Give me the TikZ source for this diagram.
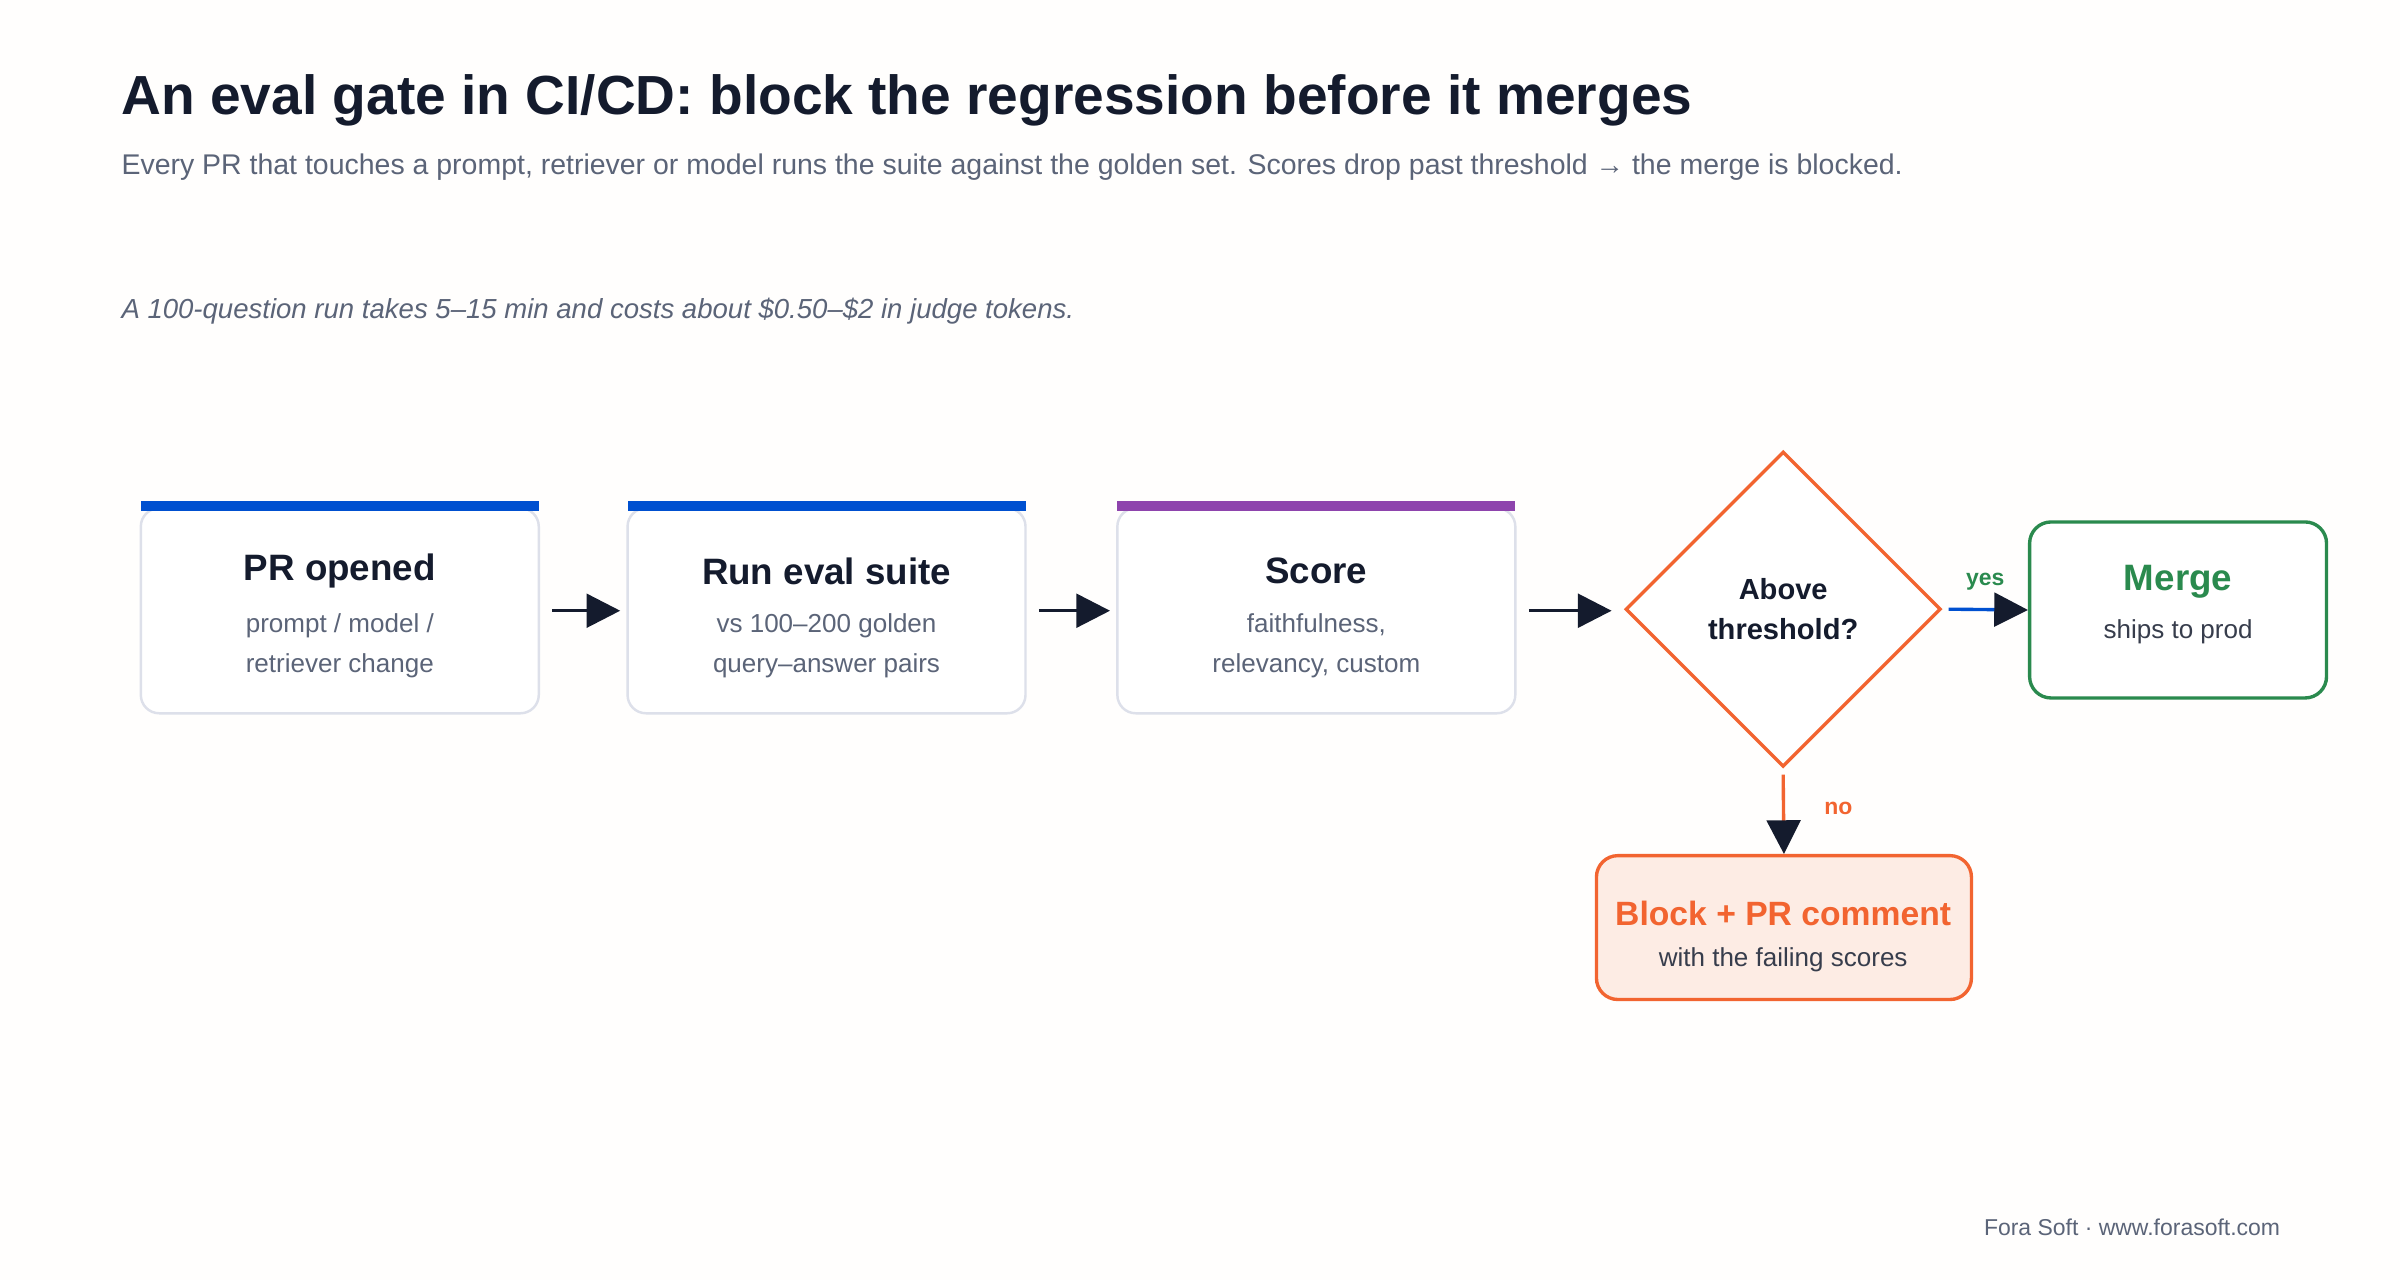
\documentclass[tikz,border=0pt]{standalone}
\usepackage{fontspec}
\setmainfont{Liberation Sans}
\usetikzlibrary{arrows.meta,shapes.geometric}
\definecolor{ink}{HTML}{141B2D}
\definecolor{sub}{HTML}{5B6478}
\definecolor{bord}{HTML}{DDE0EA}
\definecolor{blu}{HTML}{0050D0}
\definecolor{pur}{HTML}{8E44AD}
\definecolor{org}{HTML}{F26430}
\definecolor{grn}{HTML}{2A8A4E}
\definecolor{pale}{HTML}{FDECE4}
\begin{document}
\begin{tikzpicture}[x=0.5pt,y=-0.5pt,
  stepbox/.style={draw=bord,line width=0.8pt,rounded corners=6pt,fill=white,minimum width=130pt,minimum height=67pt},
  ttl/.style={font=\bfseries\fontsize{12}{14}\selectfont,text=ink},
  sm/.style={font=\fontsize{8.5}{13}\selectfont,text=sub,align=center},
  arr/.style={draw=ink,line width=1.1pt,-{Triangle[length=11pt,width=11pt,color=ink]}}]
\fill[white!98!orange!40] (0,0) rectangle (1568,836);
\useasboundingbox (0,0) rectangle (1568,836);
\node[anchor=base west,inner sep=0pt,font=\bfseries\fontsize{18}{22}\selectfont,text=ink] (t) at (79,75) {An eval gate in CI/CD: block the regression before it merges};
\node[anchor=base west,inner sep=0pt,font=\fontsize{9.3}{11}\selectfont,text=sub] (s) at (79,114) {Every PR that touches a prompt, retriever or model runs the suite against the golden set. Scores drop past threshold → the merge is blocked.};
\node[anchor=base west,inner sep=0pt,font=\itshape\fontsize{9}{11}\selectfont,text=sub] (n) at (79,208) {A 100-question run takes 5–15 min and costs about \$0.50–\$2 in judge tokens.};
% boxes
\node[stepbox] (b1) at (222,399) {};
\fill[blu] (92,327) rectangle (352,334);
\node[ttl] (b1t) at (222,373) {PR opened};
\node[sm] (b1s) at (222,422) {prompt / model /\\retriever change};
\node[stepbox] (b2) at (540,399) {};
\fill[blu] (410,327) rectangle (670,334);
\node[ttl] (b2t) at (540,373) {Run eval suite};
\node[sm] (b2s) at (540,422) {vs 100–200 golden\\query–answer pairs};
\node[stepbox] (b3) at (860,399) {};
\fill[pur] (730,327) rectangle (990,334);
\node[ttl] (b3t) at (860,373) {Score};
\node[sm] (b3s) at (860,422) {faithfulness,\\relevancy, custom};
\node[draw=org,line width=1.1pt,diamond,minimum width=103pt,minimum height=103pt,inner sep=0pt,fill=white,align=center,font=\bfseries\fontsize{9.5}{13}\selectfont,text=ink] (d) at (1165,398) {Above\\threshold?};
\node[draw=grn,line width=1.1pt,rounded corners=7pt,fill=white,minimum width=97pt,minimum height=57.5pt] (m) at (1423,398.5) {};
\node[font=\bfseries\fontsize{12}{14}\selectfont,text=grn] (mt) at (1423,380) {Merge};
\node[font=\fontsize{8.5}{10}\selectfont,text=ink!85] (ms) at (1423,413) {ships to prod};
\node[draw=org,line width=1.1pt,rounded corners=7pt,fill=pale,minimum width=122.5pt,minimum height=47pt] (k) at (1165.5,606) {};
\node[font=\bfseries\fontsize{11}{13}\selectfont,text=org] (kt) at (1165,597) {Block + PR comment};
\node[font=\fontsize{8.5}{10}\selectfont,text=ink!85] (ks) at (1165,627) {with the failing scores};
\draw[arr] ([xshift=4pt]b1.east) -- ([xshift=-2pt]b2.west);
\draw[arr] ([xshift=4pt]b2.east) -- ([xshift=-2pt]b3.west);
\draw[arr] ([xshift=4pt]b3.east) -- ([xshift=-4pt]d.west |- b3.east);
\draw[arr,draw=blu] ([xshift=2pt]d.east) -- (m.west);
\draw[arr,draw=org] ([yshift=-2pt]d.south) -- (k.north);
\node[font=\bfseries\fontsize{7.5}{9}\selectfont,text=grn] (yl) at (1297,380) {yes};
\node[font=\bfseries\fontsize{7.5}{9}\selectfont,text=org] (nl) at (1201,528) {no};
\node[anchor=base east,inner sep=0pt,font=\fontsize{7.5}{9}\selectfont,text=sub] (f) at (1490,807) {Fora Soft · www.forasoft.com};
\end{tikzpicture}
\end{document}
